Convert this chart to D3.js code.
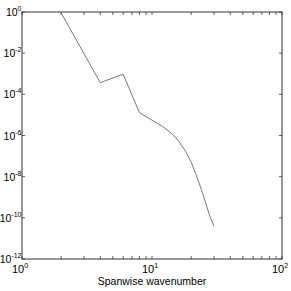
<!DOCTYPE html>
<html>
<head>
<meta charset="utf-8">
<script src="https://cdn.jsdelivr.net/npm/d3@7"></script>
<style>
  body { margin: 0; background: #fff; }
  svg text { font-family: "Liberation Sans Narrow", "Liberation Sans", Arial, sans-serif; fill: #000; }
</style>
</head>
<body>
<svg id="chart"></svg>
<script>
let wavenumber = [2, 4, 6, 8, 10, 12, 14, 16, 18, 20, 22, 24, 26, 28, 30];
let energy = [0.9, 3.7e-4, 9.5e-4, 1.3e-5, 5.6e-6, 2.8e-6, 1.35e-6, 5.5e-7, 1.8e-7,
              5.2e-8, 1.1e-8, 2.3e-9, 4.8e-10, 1.1e-10, 3.9e-11];
let xTicks = [1, 10, 100];
let yTicks = [1e0, 1e-2, 1e-4, 1e-6, 1e-8, 1e-10, 1e-12];
let xLabel = "Spanwise wavenumber";

let W = 291, H = 291;
let margin = {top: 12, right: 9, bottom: 32, left: 22};

let svg = d3.select('#chart').attr('width', W).attr('height', H);

let x = d3.scaleLog().domain([1, 100]).range([margin.left, W - margin.right]);
let y = d3.scaleLog().domain([1e-12, 1]).range([H - margin.bottom, margin.top]);

let x0 = x.range()[0], x1 = x.range()[1];
let y0 = y.range()[0], y1 = y.range()[1];

// minor ticks on x: 2..9 in each decade
let xMinor = [];
for (let d = 1; d < 100; d *= 10) {
    for (let m = 1; m < 10; m++) xMinor.push(d * m);
}
xMinor.push(100);

let tickColor = '#333';

// x ticks, bottom and top, pointing in
svg.selectAll('line.xt').data(xMinor).enter().append('line')
    .attr('x1', d => x(d)).attr('x2', d => x(d))
    .attr('y1', y0).attr('y2', y0 - 3)
    .attr('stroke', tickColor).attr('stroke-width', 0.8);
svg.selectAll('line.xtt').data(xMinor).enter().append('line')
    .attr('x1', d => x(d)).attr('x2', d => x(d))
    .attr('y1', y1).attr('y2', y1 + 3)
    .attr('stroke', tickColor).attr('stroke-width', 0.8);

// y ticks, left and right
svg.selectAll('line.yt').data(yTicks).enter().append('line')
    .attr('x1', x0).attr('x2', x0 + 3)
    .attr('y1', d => y(d)).attr('y2', d => y(d))
    .attr('stroke', tickColor).attr('stroke-width', 0.8);
svg.selectAll('line.ytr').data(yTicks).enter().append('line')
    .attr('x1', x1).attr('x2', x1 - 3)
    .attr('y1', d => y(d)).attr('y2', d => y(d))
    .attr('stroke', tickColor).attr('stroke-width', 0.8);

// frame
svg.append('rect')
    .attr('x', x0).attr('y', y1)
    .attr('width', x1 - x0).attr('height', y0 - y1)
    .attr('fill', 'none').attr('stroke', tickColor).attr('stroke-width', 1);

// data line
let line = d3.line()
    .x((d, i) => x(wavenumber[i]))
    .y(d => y(d));

svg.append('path')
    .datum(energy)
    .attr('d', line)
    .attr('fill', 'none')
    .attr('stroke', '#777')
    .attr('stroke-width', 1);

// tick labels
function expOf(v) { return Math.round(Math.log10(v)); }

let xl = svg.selectAll('text.xl').data(xTicks).enter().append('text')
    .attr('x', d => x(d) - 2)
    .attr('y', y0 + 14)
    .attr('text-anchor', 'middle')
    .style('font-size', '11px');
xl.append('tspan').text('10');
xl.append('tspan').attr('dy', -5).style('font-size', '7px').text(d => expOf(d));

let yl = svg.selectAll('text.yl').data(yTicks).enter().append('text')
    .attr('x', x0 - 0.5)
    .attr('y', d => y(d) + 4)
    .attr('text-anchor', 'end')
    .style('font-size', '10.5px');
yl.append('tspan').text('10');
yl.append('tspan').attr('dy', -5).style('font-size', '7px').text(d => expOf(d));

// axis title
svg.append('text')
    .attr('x', (x0 + x1) / 2)
    .attr('y', y0 + 26)
    .attr('text-anchor', 'middle')
    .style('font-size', '10.5px')
    .text(xLabel);
</script>
</body>
</html>
